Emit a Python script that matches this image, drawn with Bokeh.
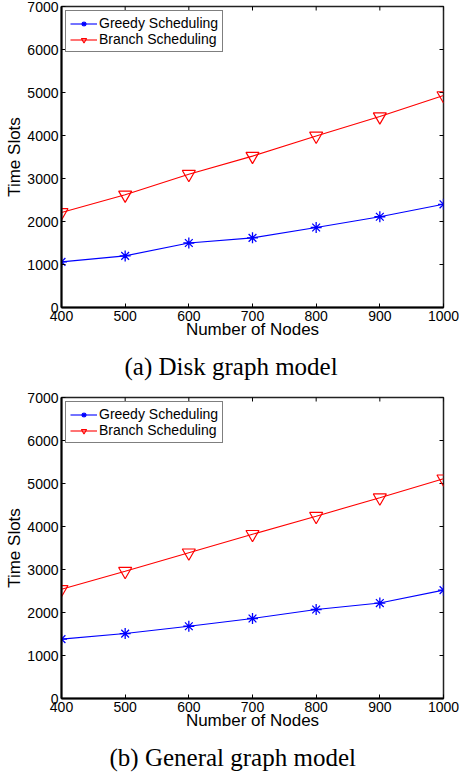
import math
from bokeh.plotting import figure
from bokeh.models import Range1d, FixedTicker, Title, Legend, LegendItem
from bokeh.layouts import column
from bokeh.embed import file_html
from bokeh.resources import INLINE

# ---- data ----
nodes = [400, 500, 600, 700, 800, 900, 1000]

disk_greedy = [1060, 1200, 1500, 1620, 1860, 2110, 2400]
disk_branch = [2210, 2620, 3100, 3520, 3990, 4440, 4930]

general_greedy = [1380, 1510, 1680, 1860, 2070, 2220, 2520]
general_branch = [2540, 2960, 3390, 3820, 4240, 4670, 5110]

x_ticks = [400, 500, 600, 700, 800, 900, 1000]
y_ticks = [0, 1000, 2000, 3000, 4000, 5000, 6000, 7000]
x_min, x_max = 400, 1000
y_min, y_max = 0, 7000

greedy_label = "Greedy Scheduling"
branch_label = "Branch Scheduling"
x_label = "Number of Nodes"
y_label = "Time Slots"
captions = ["(a) Disk graph model", "(b) General graph model"]
caption_offsets = [63, 48]

SANS = "Liberation Sans"
SERIF = "Liberation Serif"
W = 459


def style_axis(ax, ticks):
    ax.ticker = FixedTicker(ticks=ticks)
    ax.axis_line_color = "black"
    ax.axis_line_width = 2
    ax.major_tick_line_color = "black"
    ax.major_tick_line_width = 1
    ax.major_tick_in = 4
    ax.major_tick_out = 0
    ax.minor_tick_line_color = None
    ax.major_label_text_font = SANS
    ax.major_label_text_font_size = "14px"
    ax.major_label_text_color = "black"
    ax.major_label_standoff = 3
    ax.axis_label_text_font = SANS
    ax.axis_label_text_font_size = "17px"
    ax.axis_label_text_font_style = "normal"
    ax.axis_label_text_color = "black"


def make_panel(greedy, branch, caption, cap_offset, height, top, bottom):
    p = figure(width=W, height=height, output_backend="svg", toolbar_location=None,
               x_range=Range1d(x_min, x_max), y_range=Range1d(y_min, y_max),
               min_border_left=61, min_border_right=W - 443,
               min_border_top=top, min_border_bottom=bottom)
    p.xgrid.visible = False
    p.ygrid.visible = False
    p.outline_line_color = "#222222"
    p.outline_line_width = 1.5
    p.background_fill_color = "white"
    p.border_fill_color = "white"

    xa = p.xaxis[0]
    ya = p.yaxis[0]
    style_axis(xa, x_ticks)
    style_axis(ya, y_ticks)
    xa.axis_label = x_label
    ya.axis_label = y_label
    xa.axis_label_standoff = -4
    ya.axis_label_standoff = 0

    # inward ticks on the top and right edges (clipped to the frame)
    p.scatter(x_ticks, [y_max] * len(x_ticks), marker="dash", size=8, angle=math.pi / 2,
              line_color="black", line_width=1)
    p.scatter([x_max] * len(y_ticks), y_ticks, marker="dash", size=8,
              line_color="black", line_width=1)

    gl = p.line(nodes, greedy, line_color="#0000FF", line_width=1.1)
    gs = p.scatter(nodes, greedy, marker="asterisk", size=11, line_color="#0000FF", line_width=1.3)
    bl = p.line(nodes, branch, line_color="#FF0000", line_width=1.1)
    bs = p.scatter(nodes, branch, marker="inverted_triangle", size=13, line_color="#FF0000",
                   fill_color=None, line_width=1.2)

    legend = Legend(items=[LegendItem(label=greedy_label, renderers=[gl, gs]),
                           LegendItem(label=branch_label, renderers=[bl, bs])],
                    location="top_left")
    legend.margin = 4
    legend.padding = 4
    legend.spacing = 0
    legend.label_height = 13
    legend.glyph_height = 13
    legend.glyph_width = 27
    legend.label_standoff = 2
    legend.label_text_font = SANS
    legend.label_text_font_size = "14px"
    legend.label_text_color = "black"
    legend.border_line_color = "black"
    legend.border_line_width = 1.5
    legend.background_fill_color = "white"
    legend.background_fill_alpha = 1
    p.add_layout(legend, "center")

    t = Title(text=caption, align="left", text_font=SERIF, text_font_size="25px",
              text_font_style="normal", text_color="black", standoff=18, offset=cap_offset)
    p.add_layout(t, "below")
    return p


p1 = make_panel(disk_greedy, disk_branch, captions[0], caption_offsets[0], 390, 6, 83)
p2 = make_panel(general_greedy, general_branch, captions[1], caption_offsets[1], 389, 7, 81)

layout = column(p1, p2, spacing=0)
open("out.html", "w").write(file_html(layout, INLINE))
